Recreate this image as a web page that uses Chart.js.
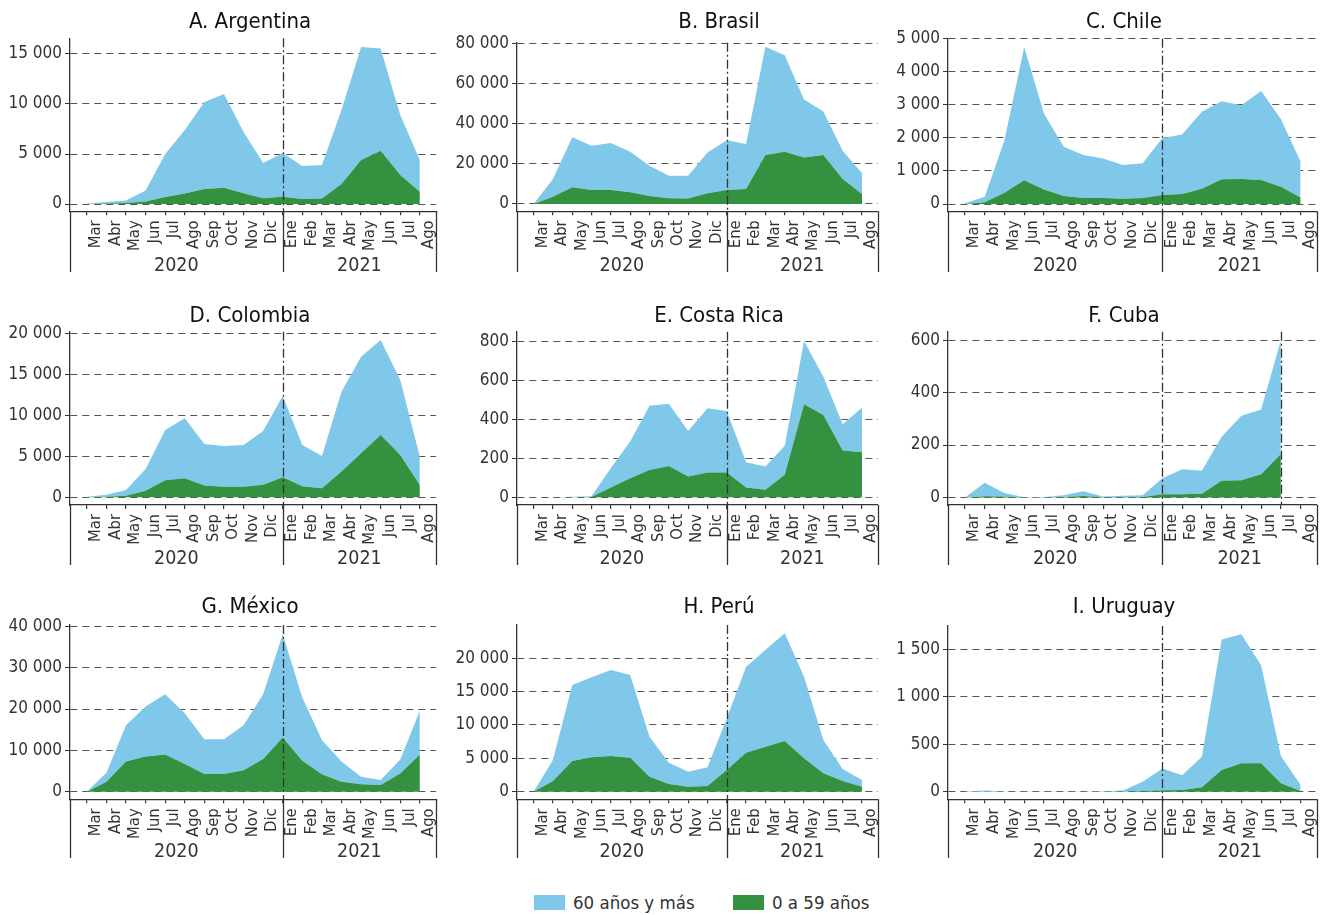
<!DOCTYPE html>
<html>
<head>
<meta charset="utf-8">
<script src="https://cdn.jsdelivr.net/npm/chart.js@4.4.1/dist/chart.umd.min.js"></script>
<style>
  html, body { margin: 0; padding: 0; background: #fff; }
  body { width: 1327px; height: 915px; position: relative; overflow: hidden;
         font-family: 'DejaVu Sans Condensed', 'Liberation Sans Narrow', Roboto, sans-serif; }
  canvas.panel { position: absolute; }
  .leyenda { position: absolute; top: 893px; height: 18px; display: flex; align-items: center;
             font-size: 18.5px; color: #333; }
  .muestra { display: inline-block; width: 31px; height: 15px; margin-right: 8px; }
</style>
</head>
<body>

<div class="leyenda" style="left:534px"><span class="muestra" style="background:#80C8EA"></span>60 años y más</div>
<div class="leyenda" style="left:733px"><span class="muestra" style="background:#339140"></span>0 a 59 años</div>

<script>
// --- datos -----------------------------------------------------------------
var MESES = ['Mar', 'Abr', 'May', 'Jun', 'Jul', 'Ago', 'Sep', 'Oct', 'Nov', 'Dic',
             'Ene', 'Feb', 'Mar', 'Abr', 'May', 'Jun', 'Jul', 'Ago'];
var ANIOS = ['2020', '2021'];
var SERIE_MAYOR = '60 años y más';
var SERIE_JOVEN = '0 a 59 años';

var argJoven = [0, 50, 100, 250, 700, 1050, 1500, 1630, 1070, 570, 730, 500, 560, 2000, 4400, 5330, 2900, 1230];
var argMayor = [50, 150, 250, 1100, 4300, 6350, 8700, 9370, 6130, 3530, 4370, 3300, 3340, 7400, 11300, 10220, 6000, 3170];
var argTicks = [0, 5000, 10000, 15000];

var braJoven = [0, 3600, 8300, 7000, 7000, 5800, 4000, 2800, 2700, 5300, 7000, 7500, 24400, 26000, 23200, 24400, 12400, 5000];
var braMayor = [0, 8800, 24900, 22000, 23400, 20200, 15100, 11300, 11400, 20400, 24800, 22400, 53900, 48100, 28900, 21600, 14100, 10300];
var braTicks = [0, 20000, 40000, 60000, 80000];

var chiJoven = [0, 50, 340, 720, 440, 240, 180, 180, 160, 180, 270, 300, 460, 750, 760, 730, 520, 200];
var chiMayor = [20, 170, 1590, 4030, 2300, 1490, 1300, 1200, 1020, 1050, 1730, 1800, 2330, 2360, 2230, 2690, 2050, 1080];
var chiTicks = [0, 1000, 2000, 3000, 4000, 5000];

var colJoven = [0, 80, 200, 800, 2080, 2320, 1430, 1300, 1300, 1550, 2440, 1340, 1100, 3140, 5380, 7620, 5170, 1510];
var colMayor = [80, 220, 700, 2660, 6150, 7330, 5070, 4970, 5100, 6550, 9940, 5060, 3950, 9760, 11810, 11610, 9170, 3460];
var colTicks = [0, 5000, 10000, 15000, 20000];

var criJoven = [0, 0, 0, 1, 50, 98, 140, 161, 106, 127, 127, 50, 38, 115, 478, 423, 240, 231];
var criMayor = [0, 0, 3, 4, 100, 188, 330, 319, 234, 330, 316, 130, 120, 150, 325, 197, 135, 229];
var criTicks = [0, 200, 400, 600, 800];

// Cuba: datos hasta julio 2021
var cubJoven = [0, 4, 3, 0, 0, 2, 5, 1, 1, 2, 12, 12, 14, 64, 66, 88, 166];
var cubMayor = [0, 52, 14, 1, 2, 6, 19, 2, 5, 6, 61, 96, 88, 168, 246, 248, 434];
var cubTicks = [0, 200, 400, 600];

var mexJoven = [0, 2400, 7300, 8500, 9000, 6700, 4300, 4300, 5200, 7900, 13100, 7500, 4200, 2400, 1800, 1600, 4400, 9000];
var mexMayor = [0, 2200, 8800, 12100, 14600, 12300, 8400, 8400, 10900, 15700, 25000, 15300, 8300, 4900, 1800, 1200, 3400, 10600];
var mexTicks = [0, 10000, 20000, 30000, 40000];

var perJoven = [0, 1600, 4600, 5150, 5350, 5100, 2250, 1150, 750, 850, 3250, 5850, 6750, 7600, 5000, 2750, 1600, 750];
var perMayor = [0, 3150, 11400, 12000, 12900, 12400, 6000, 3200, 2250, 2800, 7750, 12900, 14500, 16150, 12250, 5000, 1800, 1000];
var perTicks = [0, 5000, 10000, 15000, 20000];

var uruJoven = [0, 0, 0, 0, 0, 0, 0, 0, 3, 7, 15, 17, 46, 228, 299, 299, 88, 7];
var uruMayor = [2, 12, 3, 2, 2, 2, 3, 6, 9, 98, 231, 158, 323, 1377, 1362, 1036, 288, 63];
var uruTicks = [0, 500, 1000, 1500];

// --- paneles (datos + rango del eje) --------------------------------------
var paneles = [
  { titulo: 'A. Argentina', joven: argJoven, mayor: argMayor, ticks: argTicks, min: -730, max: 16570 },
  { titulo: 'B. Brasil', joven: braJoven, mayor: braMayor, ticks: braTicks, min: -3650, max: 80330 },
  { titulo: 'C. Chile', joven: chiJoven, mayor: chiMayor, ticks: chiTicks, min: -220, max: 5000 },
  { titulo: 'D. Colombia', joven: colJoven, mayor: colMayor, ticks: colTicks, min: -940, max: 20240 },
  { titulo: 'E. Costa Rica', joven: criJoven, mayor: criMayor, ticks: criTicks, min: -40, max: 851 },
  { titulo: 'F. Cuba', joven: cubJoven, mayor: cubMayor, ticks: cubTicks, min: -29, max: 633 },
  { titulo: 'G. México', joven: mexJoven, mayor: mexMayor, ticks: mexTicks, min: -1840, max: 40330 },
  { titulo: 'H. Perú', joven: perJoven, mayor: perMayor, ticks: perTicks, min: -1150, max: 25000 },
  { titulo: 'I. Uruguay', joven: uruJoven, mayor: uruMayor, ticks: uruTicks, min: -80, max: 1748 }
];

// --- geometria de la cuadricula 3x3 ---------------------------------------
var ALTO = 285;
var columnas = [
  { left: 0,   width: 445, ejeY: 70, padR: 8,  tx: 250 },
  { left: 445, width: 442, ejeY: 72, padR: 5,  tx: 274 },
  { left: 887, width: 440, ejeY: 61, padR: 10, tx: 237 }
];
var filas = [
  { top: 0,   bottom: 211.3, fondo: 272, ty: 22.5 },
  { top: 295, bottom: 210,   fondo: 270, ty: 21 },
  { top: 590, bottom: 209.3, fondo: 268, ty: 17.5 }
];
var topes = [38.3, 42.7, 38.7, 36.7, 36.7, 36.7, 35, 35, 36];

var FUENTE = "'DejaVu Sans Condensed', 'Liberation Sans Narrow', Roboto, sans-serif";
var GRIS = '#333';
var corteAnio = MESES.indexOf('Ene');

function miles(v) {
  return String(v).replace(/\B(?=(\d{3})+(?!\d))/g, ' ');
}

// titulo, separador de anios y rotulos de anio
var decoPlugin = {
  id: 'deco',
  afterDatasetsDraw: function(chart, args, o) {
    var ctx = chart.ctx, a = chart.chartArea, x = chart.scales.x;
    var sep = x.getPixelForValue(corteAnio);
    ctx.save();
    ctx.strokeStyle = GRIS;
    ctx.lineWidth = 1.3;

    ctx.setLineDash([9, 3, 2, 3]);
    o.cortes.forEach(function(i) {
      var px = Math.round(x.getPixelForValue(i)) + 0.5;
      ctx.beginPath(); ctx.moveTo(px, a.top); ctx.lineTo(px, a.bottom); ctx.stroke();
    });
    ctx.setLineDash([]);

    [a.left, sep, a.right].forEach(function(px) {
      px = Math.round(px) + 0.5;
      ctx.beginPath(); ctx.moveTo(px, a.bottom); ctx.lineTo(px, o.fondo); ctx.stroke();
    });

    ctx.fillStyle = GRIS;
    ctx.font = '19.5px ' + FUENTE;
    ctx.textAlign = 'center';
    ctx.textBaseline = 'middle';
    ctx.fillText(ANIOS[0], (a.left + sep) / 2, o.fondo - 6);
    ctx.fillText(ANIOS[1], (sep + a.right) / 2, o.fondo - 6);

    ctx.fillStyle = '#111';
    ctx.font = '22px ' + FUENTE;
    ctx.fillText(o.titulo, o.tx, o.ty);
    ctx.restore();
  }
};

function puntos(arr) {
  return arr.map(function(v, i) { return { x: i, y: v }; });
}

paneles.forEach(function(p, k) {
  var col = columnas[k % 3], fila = filas[Math.floor(k / 3)];
  var cv = document.createElement('canvas');
  cv.className = 'panel';
  cv.width = col.width; cv.height = ALTO;
  cv.style.left = col.left + 'px'; cv.style.top = fila.top + 'px';
  document.body.appendChild(cv);

  var cortes = [corteAnio];
  if (p.joven.length < MESES.length) cortes.push(p.joven.length - 1);

  new Chart(cv, {
    type: 'line',
    data: {
      datasets: [{
        label: SERIE_JOVEN,
        data: puntos(p.joven),
        backgroundColor: '#339140',
        borderColor: 'transparent',
        borderWidth: 0,
        pointRadius: 0,
        fill: 'origin',
        tension: 0
      }, {
        label: SERIE_MAYOR,
        data: puntos(p.mayor),
        backgroundColor: '#80C8EA',
        borderColor: 'transparent',
        borderWidth: 0,
        pointRadius: 0,
        fill: '-1',
        tension: 0
      }]
    },
    options: {
      responsive: false,
      animation: false,
      events: [],
      layout: { padding: { top: topes[k], right: col.padR, left: 0, bottom: 0 } },
      plugins: {
        legend: { display: false },
        tooltip: { enabled: false },
        deco: { titulo: p.titulo, tx: col.tx, ty: fila.ty, fondo: fila.fondo, cortes: cortes }
      },
      scales: {
        x: {
          type: 'linear',
          min: -0.86,
          max: 17.83,
          afterBuildTicks: function(s) { s.ticks = MESES.map(function(m, i) { return { value: i }; }); },
          afterFit: function(s) { s.height = ALTO - fila.bottom; },
          grid: { display: true, drawOnChartArea: false, drawTicks: true, tickLength: 4, color: GRIS, lineWidth: 1.2 },
          border: { display: true, color: GRIS, width: 1.3 },
          ticks: {
            autoSkip: false,
            minRotation: 90,
            maxRotation: 90,
            labelOffset: 9,
            padding: 5,
            color: GRIS,
            font: { family: FUENTE, size: 16.5 },
            callback: function(v, i) { return MESES[i]; }
          }
        },
        y: {
          stacked: true,
          min: p.min,
          max: p.max,
          afterBuildTicks: function(s) { s.ticks = p.ticks.map(function(v) { return { value: v }; }); },
          afterFit: function(s) { s.width = col.ejeY; },
          grid: { color: '#555', lineWidth: 1, drawTicks: true, tickLength: 5, tickColor: GRIS, tickBorderDash: [] },
          border: { display: true, color: GRIS, width: 1.3, dash: [7, 5] },
          ticks: {
            padding: 3,
            color: GRIS,
            font: { family: FUENTE, size: 17 },
            callback: function(v) { return miles(v); }
          }
        }
      }
    },
    plugins: [decoPlugin]
  });
});
</script>
</body>
</html>
